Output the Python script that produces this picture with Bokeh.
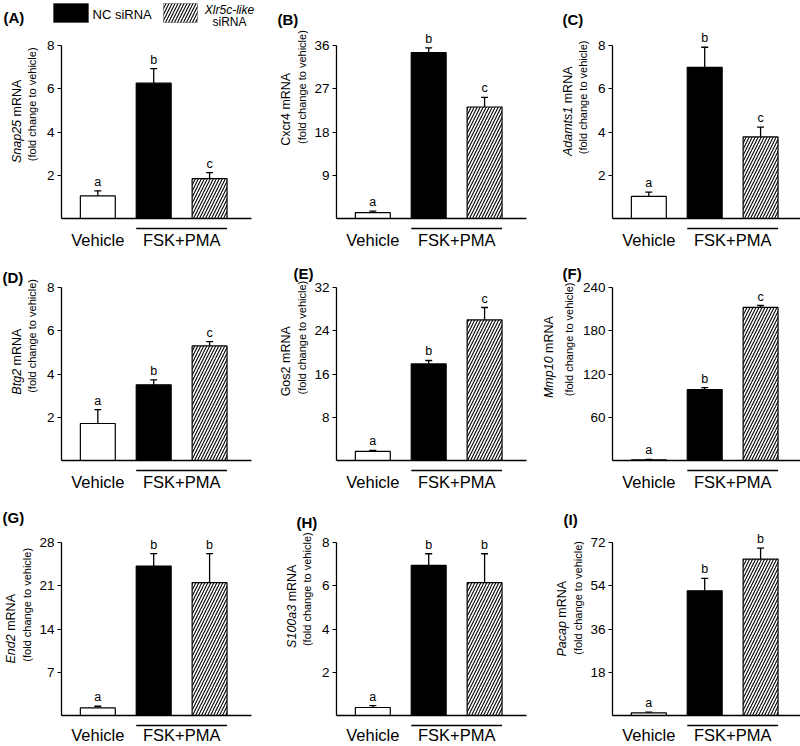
import math
from bokeh.plotting import figure
from bokeh.models import (Range1d, FixedTicker, Label, LabelSet, ColumnDataSource,
                          Whisker, TeeHead, Arrow, BoxAnnotation, LinearAxis)
from bokeh.layouts import column, row
from bokeh.core.properties import value
from bokeh.embed import file_html
from bokeh.resources import INLINE

FONT = "Liberation Sans"

# ---------------- data ----------------
groups = ["Vehicle", "NC siRNA", "Xlr5c-like siRNA"]
group_pos = [0, 1, 2]
category_labels = ["Vehicle", "FSK+PMA"]
category_members = [[0], [1, 2]]

panel_tags = ["(A)", "(B)", "(C)", "(D)", "(E)", "(F)", "(G)", "(H)", "(I)"]
genes = ["Snap25", "Cxcr4", "Adamts1", "Btg2", "Gos2", "Mmp10", "End2", "S100a3", "Pacap"]
gene_italic = [True, False, True, True, False, True, True, True, True]

snap25_mean = [1.05, 6.26, 1.84]
snap25_err = [0.23, 0.67, 0.28]
cxcr4_mean = [1.24, 34.5, 23.2]
cxcr4_err = [0.3, 1.0, 2.0]
adamts1_mean = [1.02, 6.99, 3.77]
adamts1_err = [0.2, 0.93, 0.46]
btg2_mean = [1.71, 3.5, 5.3]
btg2_err = [0.64, 0.23, 0.2]
gos2_mean = [1.67, 17.86, 26.0]
gos2_err = [0.2, 0.64, 2.3]
mmp10_mean = [1.0, 98.4, 212.4]
mmp10_err = [0.5, 2.6, 2.6]
end2_mean = [1.24, 24.2, 21.5]
end2_err = [0.26, 2.0, 4.7]
s100a3_mean = [0.37, 6.94, 6.14]
s100a3_err = [0.09, 0.54, 1.34]
pacap_mean = [1.1, 51.9, 65.1]
pacap_err = [0.3, 5.2, 4.6]

means = [snap25_mean, cxcr4_mean, adamts1_mean, btg2_mean, gos2_mean,
         mmp10_mean, end2_mean, s100a3_mean, pacap_mean]
errs = [snap25_err, cxcr4_err, adamts1_err, btg2_err, gos2_err,
        mmp10_err, end2_err, s100a3_err, pacap_err]
y_max = [8, 36, 8, 8, 32, 240, 28, 8, 72]
y_ticks = [[2, 4, 6, 8], [9, 18, 27, 36], [2, 4, 6, 8], [2, 4, 6, 8], [8, 16, 24, 32],
           [60, 120, 180, 240], [7, 14, 21, 28], [2, 4, 6, 8], [18, 36, 54, 72]]
sig_letters = [["a", "b", "c"], ["a", "b", "c"], ["a", "b", "c"],
               ["a", "b", "c"], ["a", "b", "c"], ["a", "b", "c"],
               ["a", "b", "b"], ["a", "b", "b"], ["a", "b", "b"]]

# ---------------- layout / style ----------------
AX_H = 173                 # pixel height of the value axis
PPU = 190 / 3.4            # pixels per bar slot
X0 = -0.65                 # x position of the value axis
BAR_W = 0.625
col_fig_w = [270, 266, 264]
col_axis_left = [61, 66, 76]
col_axis_w = [190, 190, 188]
row_fig_h = [250, 245, 251]
row_top = [45, 37, 47]
row_standoff = [12, 12, 10]
tag_offsets = [(-58, 37), (-59, 35), (-50, 35),
               (-59, 19), (-43, 23), (-50, 23),
               (-59, 34), (-40, 29), (-49, 32)]
ylabel_offsets = {1: (-45, -29.5), 2: (-51, -34.5), 3: (-64, -44)}
# fraction of the value axis where the y title is centred, per panel
ylabel_center = [0.66, 0.76, 0.70, 0.72, 0.71, 0.70, 0.64, 0.73, 0.68]

fills = ["white", "black", "white"]
hatches = [" ", " ", "/"]

ARIAL_W = {' ': 278, '(': 333, ')': 333, '+': 584, '-': 333,
           'A': 667, 'B': 667, 'C': 722, 'E': 667, 'G': 778, 'M': 833, 'N': 722,
           'P': 667, 'R': 722, 'S': 667, 'X': 667,
           'a': 556, 'b': 556, 'c': 500, 'd': 556, 'e': 556, 'g': 556, 'h': 556,
           'i': 222, 'k': 500, 'l': 222, 'm': 833, 'n': 556, 'o': 556, 'p': 556,
           'r': 333, 's': 500, 't': 278, 'x': 500}


def text_w(s, size):
    return sum(ARIAL_W.get(ch, 556) for ch in s) * size / 1000.0


def make_panel(i, r, c):
    ymax = y_max[i]
    W, H = col_fig_w[c], row_fig_h[r]
    L = col_axis_left[c]
    T = row_top[r]
    B = H - T - AX_H
    ypp = ymax / AX_H
    x1 = X0 + col_axis_w[c] / PPU
    p = figure(width=W, height=H,
               x_range=Range1d(X0 - L / PPU, X0 + (W - L) / PPU),
               y_range=Range1d(-B * ypp, ymax + T * ypp),
               x_axis_location=None, y_axis_location=None,
               output_backend="svg", toolbar_location=None,
               min_border=0, min_border_left=0, min_border_right=0,
               min_border_top=0, min_border_bottom=0,
               outline_line_color=None, background_fill_color="white",
               border_fill_color="white")
    p.title.visible = False
    p.grid.visible = False

    upper = [m + e for m, e in zip(means[i], errs[i])]
    src = ColumnDataSource(dict(x=group_pos, top=means[i], upper=upper,
                                fill=fills, hatch=hatches, letter=sig_letters[i]))
    p.vbar(x="x", top="top", width=BAR_W, source=src, fill_color="fill",
           hatch_pattern="hatch", hatch_color="black", hatch_scale=6, hatch_weight=1.1,
           line_color="black", line_width=1.2)
    p.add_layout(Whisker(base="x", lower="top", upper="upper", source=src,
                         dimension="height", lower_head=None,
                         upper_head=TeeHead(size=7, line_width=1.3, line_color="black"),
                         line_width=1.3, line_color="black"))
    p.add_layout(LabelSet(x="x", y="upper", text="letter", source=src, y_offset=2,
                          text_align="center", text_baseline="bottom",
                          text_font=value(FONT), text_font_size="12.5px",
                          text_color="black"))

    # x axis with category labels
    cat_pos = [sum(group_pos[k] for k in mem) / len(mem) for mem in category_members]
    xaxis = LinearAxis(fixed_location=0, bounds=(X0, x1),
                       ticker=FixedTicker(ticks=cat_pos),
                       major_label_overrides={pos: lab for pos, lab in zip(cat_pos, category_labels)},
                       major_tick_line_color=None, major_tick_out=0, major_tick_in=0,
                       minor_tick_line_color=None,
                       major_label_standoff=row_standoff[r], major_label_text_font=FONT,
                       major_label_text_font_size="16.5px", major_label_text_color="black",
                       axis_line_width=1.3, axis_line_color="black")
    p.add_layout(xaxis, "below")

    # group underline for FSK+PMA
    yline = -10 * ypp
    for mem in category_members:
        if len(mem) > 1:
            xs = min(group_pos[k] for k in mem) - BAR_W / 2
            xe = max(group_pos[k] for k in mem) + BAR_W / 2
            p.add_layout(Arrow(x_start=xs, y_start=yline, x_end=xe, y_end=yline,
                               start=None, end=None, line_width=1.3, line_color="black"))

    # y axis
    yaxis = LinearAxis(fixed_location=X0, bounds=(0, ymax),
                       ticker=FixedTicker(ticks=y_ticks[i]),
                       major_tick_out=4, major_tick_in=0, minor_tick_line_color=None,
                       major_label_standoff=3, major_label_text_font=FONT,
                       major_label_text_font_size="13.5px", major_label_text_color="black",
                       axis_line_width=1.3, axis_line_color="black",
                       major_tick_line_width=1.2)
    p.add_layout(yaxis, "left")

    # y axis title (two lines, gene name in italics), every piece centre-aligned
    nd = len(str(max(y_ticks[i])))
    off1, off2 = ylabel_offsets[nd]
    f1, f2 = 12.5, 11
    line2 = "(fold change to vehicle)"
    yc = ymax * ylabel_center[i]
    start_px = -text_w(line2, f2) / 2          # both lines start at the same height
    gene = genes[i]
    wg = text_w(gene, f1)
    wsp = text_w(" ", f1)
    wm = text_w("mRNA", f1)
    p.add_layout(Label(x=X0, y=yc, x_offset=off1, y_offset=start_px + wg / 2,
                       angle=math.pi / 2, text=gene, text_align="center",
                       text_baseline="middle", text_font=FONT, text_font_size=f"{f1}px",
                       text_font_style="italic" if gene_italic[i] else "normal",
                       text_color="black"))
    p.add_layout(Label(x=X0, y=yc, x_offset=off1, y_offset=start_px + wg + wsp + wm / 2,
                       angle=math.pi / 2, text="mRNA", text_align="center",
                       text_baseline="middle", text_font=FONT,
                       text_font_size=f"{f1}px", text_color="black"))
    p.add_layout(Label(x=X0, y=yc, x_offset=off2, angle=math.pi / 2,
                       text=line2, text_align="center",
                       text_baseline="middle", text_font=FONT,
                       text_font_size=f"{f2}px", text_color="black"))

    # panel tag
    dx, dy = tag_offsets[i]
    p.add_layout(Label(x=X0, y=ymax, x_offset=dx, y_offset=dy, text=panel_tags[i],
                       text_align="left", text_baseline="top", text_font=FONT,
                       text_font_size="15px", text_font_style="bold",
                       text_color="black"))
    return p


def add_legend(p, ymax):
    ypp = ymax / AX_H

    def xd(px):
        return X0 + px / PPU

    def yd(px_above):
        return ymax + px_above * ypp

    p.add_layout(BoxAnnotation(left=xd(-8), right=xd(27), bottom=yd(23), top=yd(42),
                               fill_color="black", fill_alpha=1.0,
                               line_color="black", line_width=1))
    p.add_layout(BoxAnnotation(left=xd(102), right=xd(136), bottom=yd(23), top=yd(42),
                               fill_color="white", fill_alpha=1.0,
                               hatch_pattern="/", hatch_color="black", hatch_scale=6,
                               hatch_weight=1.1, line_color="black", line_width=1))
    p.add_layout(Label(x=X0, y=ymax, x_offset=31, y_offset=31, text=groups[1],
                       text_align="left", text_baseline="middle", text_font=FONT,
                       text_font_size="13px", text_color="black"))
    word1, word2 = groups[2].split(" ")
    p.add_layout(Label(x=X0, y=ymax, x_offset=168, y_offset=36, text=word1,
                       text_align="center", text_baseline="middle", text_font=FONT,
                       text_font_size="12px", text_font_style="italic",
                       text_color="black"))
    p.add_layout(Label(x=X0, y=ymax, x_offset=168, y_offset=24, text=word2,
                       text_align="center", text_baseline="middle", text_font=FONT,
                       text_font_size="12px", text_color="black"))


rows = []
for r in range(3):
    figs = []
    for c in range(3):
        i = r * 3 + c
        p = make_panel(i, r, c)
        if i == 0:
            add_legend(p, y_max[0])
        figs.append(p)
    rows.append(row(*figs))

layout = column(*rows)

with open("out.html", "w") as f:
    f.write(file_html(layout, INLINE))
